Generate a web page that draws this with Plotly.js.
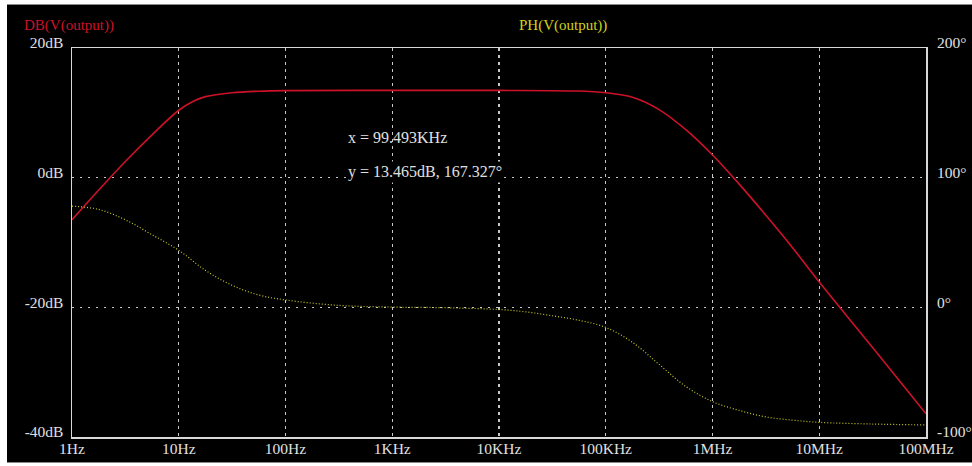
<!DOCTYPE html>
<html>
<head>
<meta charset="utf-8">
<script src="https://cdn.plot.ly/plotly-3.0.1.min.js"></script>
<style>
  html, body { margin: 0; padding: 0; background: #ffffff; width: 972px; height: 466px; overflow: hidden; }
  #frame { position: absolute; left: 7px; top: 4px; width: 965px; height: 459px; background: #000; border-top: 1px solid #888; border-bottom: 1px solid #888; box-sizing: border-box; }
  #chart { width: 965px; height: 457px; }
</style>
</head>
<body>
<div id="frame"><div id="chart"></div></div>
<script>
// Frequency tick values and labels
const tickFreqs = [1, 10, 100, 1e3, 1e4, 1e5, 1e6, 1e7, 1e8];
const tickLabels = ["1Hz", "10Hz", "100Hz", "1KHz", "10KHz", "100KHz", "1MHz", "10MHz", "100MHz"];

// Magnitude DB(V(output))
const magFreq = [1, 1.78, 3.16, 5.62, 10, 13.7, 17.8, 31.6, 56.2, 100, 1e3, 1e4, 5e4, 1e5, 1.78e5, 3.16e5, 5.62e5, 1e6, 1.78e6, 3.16e6, 5.62e6, 1e7, 3.16e7, 1e8];
const magDb   = [-6.5, -1.9, 2.5, 6.6, 10.4, 11.8, 12.5, 13.1, 13.33, 13.42, 13.46, 13.46, 13.37, 13.1, 12.4, 10.5, 7.4, 3.5, -1.0, -5.8, -10.8, -16.1, -26.2, -36.4];

// Phase PH(V(output))
const phFreq = [1, 1.78, 3.16, 5.62, 10, 17.8, 31.6, 56.2, 100, 316, 1000, 3160, 1e4, 1.78e4, 3.16e4, 5.62e4, 1e5, 1.78e5, 3.16e5, 5.62e5, 1e6, 1.78e6, 3.16e6, 5.62e6, 1e7, 3.16e7, 1e8];
const phDeg  = [78, 75.5, 67.5, 56, 44, 28.5, 17, 9.5, 5.7, 1.5, 0.2, -0.3, -1.7, -3.5, -6.5, -10, -15.5, -27, -44, -61, -72.7, -79.5, -84.5, -87, -88.7, -90, -90.7];

// Left (dB) and right (degree) axis ticks
const dbTicks = [-40, -20, 0, 20];
const dbLabels = ["-40dB", "-20dB", "0dB", "20dB"];
const degTicks = [-100, 0, 100, 200];
const degLabels = ["-100°", "0°", "100°", "200°"];

const serif = "Liberation Serif, Times New Roman, serif";
const txt = "#e0e0e0";

const traces = [
  {
    x: phFreq, y: phDeg, yaxis: "y2", type: "scatter", mode: "lines",
    line: { color: "#c8c82a", width: 1.2, dash: "1px,2px", shape: "spline", smoothing: 1 },
    hoverinfo: "skip"
  },
  {
    x: magFreq, y: magDb, type: "scatter", mode: "lines",
    line: { color: "#cc1228", width: 1.6, shape: "spline", smoothing: 1 },
    hoverinfo: "skip"
  }
];

const layout = {
  width: 965, height: 457,
  paper_bgcolor: "#000", plot_bgcolor: "#000",
  margin: { l: 65, r: 46, t: 43, b: 25, pad: 0 },
  showlegend: false,
  font: { family: serif, size: 15, color: txt },
  xaxis: {
    type: "log", range: [0, 8],
    tickvals: tickFreqs, ticktext: tickLabels,
    showgrid: true, gridcolor: "#c8c8c8", gridwidth: 1.2, griddash: "3px,4px",
    showline: true, mirror: true, linecolor: "#d8d8d8", linewidth: 1.5,
    zeroline: false, ticks: "", ticklabelstandoff: -3,
    tickfont: { family: serif, size: 15.5, color: txt }
  },
  yaxis: {
    range: [-40, 20],
    tickvals: dbTicks, ticktext: dbLabels,
    showgrid: true, gridcolor: "#c8c8c8", gridwidth: 1.2, griddash: "2px,6px",
    showline: true, mirror: true, linecolor: "#d8d8d8", linewidth: 1.5,
    zeroline: false, ticks: "", ticklabelstandoff: 4, ticklabelshift: -5,
    tickfont: { family: serif, size: 15.5, color: txt }
  },
  yaxis2: {
    range: [-100, 200], overlaying: "y", side: "right",
    tickvals: degTicks, ticktext: degLabels,
    showgrid: false, zeroline: false, showline: false, ticks: "",
    ticklabelstandoff: 10, ticklabelshift: -5,
    tickfont: { family: serif, size: 15.5, color: txt }
  },
  annotations: [
    { xref: "paper", yref: "paper", x: -0.0585, y: 1.059, xanchor: "left", yanchor: "middle",
      text: "DB(V(output))", showarrow: false, font: { family: serif, size: 15, color: "#cc1228" } },
    { xref: "paper", yref: "paper", x: 0.5744, y: 1.059, xanchor: "center", yanchor: "middle",
      text: "PH(V(output))", showarrow: false, font: { family: serif, size: 15, color: "#d2d21e" } },
    { xref: "paper", yref: "paper", x: 0.3208, y: 0.771, xanchor: "left", yanchor: "middle",
      text: "x = 99.493KHz", showarrow: false, font: { family: serif, size: 16, color: txt } },
    { xref: "paper", yref: "paper", x: 0.3208, y: 0.681, xanchor: "left", yanchor: "middle",
      text: "y = 13.465dB, 167.327°", showarrow: false, bgcolor: "#000",
      font: { family: serif, size: 16, color: txt } }
  ]
};

Plotly.newPlot("chart", traces, layout, { staticPlot: true, displayModeBar: false });
</script>
</body>
</html>
